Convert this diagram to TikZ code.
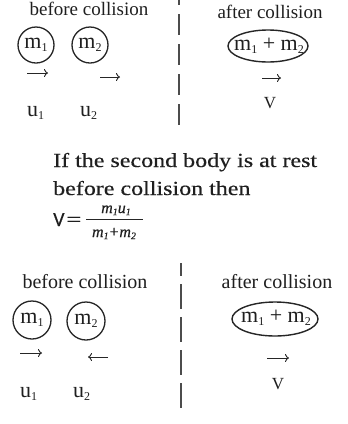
\documentclass[tikz,border=0pt]{standalone}
\usepackage{fontspec}
\setmainfont{Liberation Serif}
\newfontfamily\bodyfont[FakeStretch=1.2,FakeBold=0.4]{Liberation Serif}
\newfontfamily\carlito[FakeBold=0.4]{Carlito}
\newfontfamily\fracfont[FakeBold=0.3]{Liberation Serif}
\usetikzlibrary{arrows.meta,shapes.geometric}
\newcommand\lowsub[1]{\raisebox{-0.35ex}{\fontsize{12}{12}\selectfont #1}}
\newcommand\msub[1]{\raisebox{-0.3ex}{\fontsize{10}{10}\selectfont #1}}
\begin{document}
\begin{tikzpicture}[x=1pt,y=-1pt,
  ink/.style={text=black!88},
  lab/.style={ink,font=\fontsize{22}{24}\selectfont, inner sep=0pt, anchor=base west},
  vlab/.style={ink,font=\fontsize{17}{20}\selectfont, inner sep=0pt, anchor=base},
  headA/.style={ink,font=\fontsize{19}{22}\selectfont, inner sep=0pt, anchor=base},
  headB/.style={ink,font=\fontsize{20}{22}\selectfont, inner sep=0pt, anchor=base},
  ball/.style={ink,circle, draw=black!85, line width=1.3pt, inner sep=0pt, minimum size=#1, font=\fontsize{22}{24}\selectfont},
  blobtext/.style={ink, inner sep=0pt, font=\fontsize{22}{24}\selectfont},
  ring/.style={draw=black!85, line width=1.4pt},
  vel/.style={draw=black!85,-{To[length=4pt,width=8pt]}, line width=0.9pt},
  sep/.style={line width=1.6pt, draw=black!70},
  para/.style={ink,font=\bodyfont\fontsize{20}{24}\selectfont, anchor=base west, inner sep=0pt},
  frac/.style={ink,font=\fracfont\fontsize{16}{18}\selectfont\itshape, anchor=base, inner sep=0pt}]
\useasboundingbox[fill=white] (0,0) rectangle (348,424);

% ---------- top section ----------
\node[headA] (bc1) at (89,15) {before collision};
\node[headA] (ac1) at (270,18) {after collision};
\node[ball=36pt] (m1a) at (36,45) {m\lowsub{1}};
\node[ball=36pt] (m2a) at (90,45) {m\lowsub{2}};
\coordinate (a1s) at (27,73); \coordinate (a1e) at (48,73);
\draw[vel] (a1s) -- (a1e);
\coordinate (a2s) at (100,77); \coordinate (a2e) at (120,77);
\draw[vel] (a2s) -- (a2e);
\node[lab] (u1a) at (27,116) {u\lowsub{1}};
\node[lab] (u2a) at (80,116) {u\lowsub{2}};
\node[blobtext] (ma) at (269,46) {m\lowsub{1} + m\lowsub{2}};
\draw[ring] (268,46) ellipse [x radius=40, y radius=16];
\coordinate (a3s) at (262,78); \coordinate (a3e) at (281,78);
\draw[vel] (a3s) -- (a3e);
\node[vlab] (va) at (270,108) {V};
\coordinate (s1t) at (179,0); \coordinate (s1b) at (179,125);
\draw[sep, dash pattern=on 21pt off 9pt, dash phase=16pt] (s1t) -- (s1b);

% ---------- middle text ----------
\node[para] (t1) at (53,167) {If the second body is at rest};
\node[para] (t2) at (53,195) {before collision then};
\node[para] (t3) at (53,226) {{\carlito V}};
\node[para] (eq) at (66,226) {\scalebox{1.12}[1]{=}};
\node[frac] (num) at (116,213) {m\msub{1}u\msub{1}};
\node[frac] (den) at (114,237) {m\msub{1}+m\msub{2}};
\coordinate (barl) at (86,219); \coordinate (barr) at (143,219);
\draw[line width=0.9pt, draw=black!85] (barl) -- (barr);

% ---------- bottom section ----------
\node[headB] (bc2) at (85,288) {before collision};
\node[headB] (ac2) at (277,288) {after collision};
\node[ball=38pt] (m1b) at (32,320) {m\lowsub{1}};
\node[ball=38pt] (m2b) at (86,321) {m\lowsub{2}};
\coordinate (b1s) at (20,353); \coordinate (b1e) at (42,353);
\draw[vel] (b1s) -- (b1e);
\coordinate (b2s) at (108,357); \coordinate (b2e) at (88,357);
\draw[vel] (b2s) -- (b2e);
\node[lab] (u1b) at (20,397) {u\lowsub{1}};
\node[lab] (u2b) at (73,397) {u\lowsub{2}};
\node[blobtext] (mb) at (276,318) {m\lowsub{1} + m\lowsub{2}};
\draw[ring] (275,319) ellipse [x radius=43, y radius=17];
\coordinate (b3s) at (267,358); \coordinate (b3e) at (289,358);
\draw[vel] (b3s) -- (b3e);
\node[vlab] (vb) at (278,389) {V};
\coordinate (s2t) at (181,263); \coordinate (s2b) at (181,408);
\draw[sep, dash pattern=on 25pt off 8pt, dash phase=12pt] (s2t) -- (s2b);
\end{tikzpicture}
\end{document}
